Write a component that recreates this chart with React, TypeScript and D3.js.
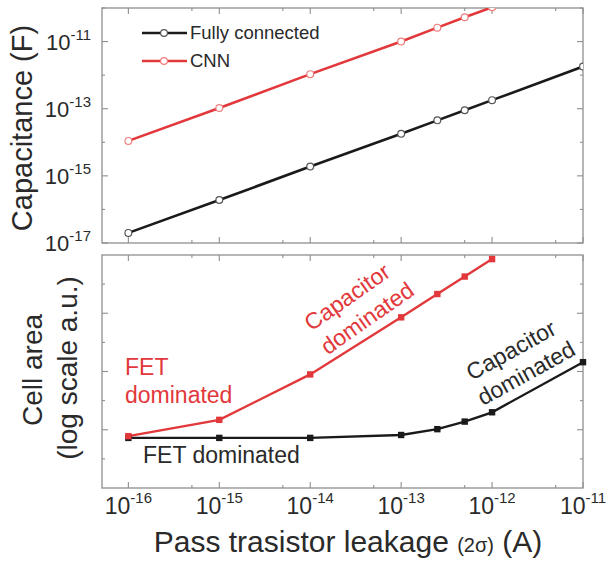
import React from 'react';
import * as d3 from 'd3';

// Pass transistor leakage (A)
const leakage = [1e-16, 1e-15, 1e-14, 1e-13, 2.5e-13, 5e-13, 1e-12, 1e-11];
// Capacitance (F)
const capFC = [2e-17, 1.9e-16, 1.9e-15, 1.8e-14, 4.5e-14, 9e-14, 1.8e-13, 1.8e-12];
const capCNN = [1.1e-14, 1.05e-13, 1.07e-12, 1e-11, 2.6e-11, 5.3e-11, 1.05e-10];
// Cell area (log scale a.u.)
const areaFC = [0.86, 0.86, 0.86, 0.91, 1.01, 1.14, 1.3, 2.16];
const areaCNN = [0.89, 1.17, 1.95, 2.93, 3.33, 3.63, 3.93];

const xMajor = [1e-16, 1e-15, 1e-14, 1e-13, 1e-12, 1e-11];
const xMinor = [5e-16, 5e-15, 5e-14, 5e-13, 5e-12];
const xLabels = ['-16', '-15', '-14', '-13', '-12', '-11'];
const yTopTicks = [1e-17, 1e-16, 1e-15, 1e-14, 1e-13, 1e-12, 1e-11, 1e-10];
const yTopLabelTicks = [1e-17, 1e-15, 1e-13, 1e-11];
const yTopLabels = ['-17', '-15', '-13', '-11'];
const yBotMajor = [1, 2, 3];
const yBotMinor = [0.5, 1.5, 2.5, 3.5];

const FONT = '"Liberation Sans", Arial, Helvetica, sans-serif';
const RED = '#e2383b';
const BLACK = '#1a1a1a';
const FRAME = '#8f8f8f';
const TXT = '#2a2a2a';

const L = 102, R = 583;
const topT = 8, topB = 243, botT = 255, botB = 488;

export default function App() {
  const x = d3.scaleLog().domain([Math.pow(10, -16.29), 1e-11]).range([L, R]);
  const yTop = d3.scaleLog().domain([1e-17, 1e-10]).range([topB, topT]);
  const yBot = d3.scaleLinear().domain([0, 4]).range([botB, botT]);

  const lineTop = d3.line<[number, number]>().x(d => x(d[0])).y(d => yTop(d[1]));
  const lineBot = d3.line<[number, number]>().x(d => x(d[0])).y(d => yBot(d[1]));

  const fcTop: [number, number][] = capFC.map((v, i) => [leakage[i], v]);
  const cnnTop: [number, number][] = capCNN.map((v, i) => [leakage[i], v]);
  const fcBot: [number, number][] = areaFC.map((v, i) => [leakage[i], v]);
  const cnnBot: [number, number][] = areaCNN.map((v, i) => [leakage[i], v]);

  const frame = (t: number, b: number, yMaj: number[], yMin: number[]) => (
    <g>
      <rect x={L} y={t} width={R - L} height={b - t} fill="none" stroke={FRAME} strokeWidth={1.3} />
      {xMajor.map((v, i) => (
        <g key={'xm' + i}>
          <line x1={x(v)} x2={x(v)} y1={b} y2={b - 6} stroke={FRAME} strokeWidth={1.1} />
          <line x1={x(v)} x2={x(v)} y1={t} y2={t + 6} stroke={FRAME} strokeWidth={1.1} />
        </g>
      ))}
      {xMinor.map((v, i) => (
        <g key={'xn' + i}>
          <line x1={x(v)} x2={x(v)} y1={b} y2={b - 3} stroke={FRAME} strokeWidth={1.1} />
          <line x1={x(v)} x2={x(v)} y1={t} y2={t + 3} stroke={FRAME} strokeWidth={1.1} />
        </g>
      ))}
      {yMaj.map((yy, i) => (
        <g key={'ym' + i}>
          <line x1={L} x2={L + 6} y1={yy} y2={yy} stroke={FRAME} strokeWidth={1.1} />
          <line x1={R} x2={R - 6} y1={yy} y2={yy} stroke={FRAME} strokeWidth={1.1} />
        </g>
      ))}
      {yMin.map((yy, i) => (
        <g key={'yn' + i}>
          <line x1={L} x2={L + 3} y1={yy} y2={yy} stroke={FRAME} strokeWidth={1.1} />
          <line x1={R} x2={R - 3} y1={yy} y2={yy} stroke={FRAME} strokeWidth={1.1} />
        </g>
      ))}
    </g>
  );

  const topMaj = yTopTicks.filter(v => yTopLabelTicks.includes(v)).map(v => yTop(v));
  const topMin = yTopTicks.filter(v => !yTopLabelTicks.includes(v)).map(v => yTop(v));

  return (
    <svg width={606} height={564} style={{ position: 'absolute', left: 0, top: 0, background: '#fff' }} fontFamily={FONT}>
      <defs>
        <clipPath id="clipTop">
          <rect x={L} y={topT} width={R - L} height={topB - topT} />
        </clipPath>
      </defs>
      <rect x={0} y={0} width={606} height={564} fill="#fff" />

      {/* Top panel */}
      {frame(topT, topB, topMaj, topMin)}
      <g clipPath="url(#clipTop)">
        <path d={lineTop(fcTop) || ''} fill="none" stroke={BLACK} strokeWidth={2.6} />
        <path d={lineTop(cnnTop) || ''} fill="none" stroke={RED} strokeWidth={2.6} />
        {fcTop.map((d, i) => (
          <circle key={'fc' + i} cx={x(d[0])} cy={yTop(d[1])} r={3.4} fill="#fff" stroke="#555" strokeWidth={1.2} />
        ))}
        {cnnTop.map((d, i) => (
          <circle key={'cn' + i} cx={x(d[0])} cy={yTop(d[1])} r={3.4} fill="#fff" stroke="#ef7f7f" strokeWidth={1.2} />
        ))}
      </g>
      {yTopLabelTicks.map((v, i) => (
        <text key={'yl' + i} x={91} y={yTop(v) + 8} textAnchor="end" fontSize={22} fill={TXT}>
          10<tspan dy={-10} fontSize={15}>{yTopLabels[i]}</tspan>
        </text>
      ))}
      <text transform={`translate(32,128) rotate(-90)`} textAnchor="middle" fontSize={29} fill={TXT}>
        Capacitance (F)
      </text>

      {/* Legend */}
      <line x1={142} x2={187} y1={33} y2={33} stroke={BLACK} strokeWidth={2.6} />
      <circle cx={164} cy={33} r={3.4} fill="#fff" stroke="#555" strokeWidth={1.2} />
      <text x={190} y={33} dy="0.35em" fontSize={18.5} fill={TXT}>Fully connected</text>
      <line x1={142} x2={187} y1={61} y2={61} stroke={RED} strokeWidth={2.6} />
      <circle cx={164} cy={61} r={3.4} fill="#fff" stroke="#ef7f7f" strokeWidth={1.2} />
      <text x={190} y={61} dy="0.35em" fontSize={18.5} fill={TXT}>CNN</text>

      {/* Bottom panel */}
      {frame(botT, botB, yBotMajor.map(v => yBot(v)), yBotMinor.map(v => yBot(v)))}
      <path d={lineBot(fcBot) || ''} fill="none" stroke={BLACK} strokeWidth={2.4} />
      <path d={lineBot(cnnBot) || ''} fill="none" stroke={RED} strokeWidth={2.4} />
      {fcBot.map((d, i) => (
        <rect key={'fb' + i} x={x(d[0]) - 3.2} y={yBot(d[1]) - 3.2} width={6.4} height={6.4} fill={BLACK} />
      ))}
      {cnnBot.map((d, i) => (
        <rect key={'cb' + i} x={x(d[0]) - 3.2} y={yBot(d[1]) - 3.2} width={6.4} height={6.4} fill={RED} />
      ))}

      {/* Annotations */}
      <text x={125} y={375} fontSize={23} fill={RED}>FET</text>
      <text x={125} y={403} fontSize={23} fill={RED}>dominated</text>
      <text x={143} y={463} fontSize={23} fill={TXT}>FET dominated</text>
      <text transform="translate(347,297) rotate(-35)" textAnchor="middle" dy="0.35em" fontSize={23} fill={RED}>Capacitor</text>
      <text transform="translate(367,318) rotate(-35)" textAnchor="middle" dy="0.35em" fontSize={23} fill={RED}>dominated</text>
      <text transform="translate(511,350) rotate(-29)" textAnchor="middle" dy="0.35em" fontSize={23} fill={TXT}>Capacitor</text>
      <text transform="translate(526,373) rotate(-29)" textAnchor="middle" dy="0.35em" fontSize={23} fill={TXT}>dominated</text>

      <text transform="translate(42,370) rotate(-90)" textAnchor="middle" fontSize={28} fill={TXT}>Cell area</text>
      <text transform="translate(77,368) rotate(-90)" textAnchor="middle" fontSize={28} fill={TXT}>(log scale a.u.)</text>

      {/* X axis labels */}
      {xMajor.map((v, i) => (
        <text key={'xl' + i} x={x(v)} y={514} textAnchor="middle" fontSize={23} fill={TXT}>
          10<tspan dy={-11} fontSize={15}>{xLabels[i]}</tspan>
        </text>
      ))}
      <text x={348} y={552} textAnchor="middle" fontSize={30} fill={TXT}>
        Pass trasistor leakage <tspan fontSize={20}>(2σ)</tspan> (A)
      </text>
    </svg>
  );
}
